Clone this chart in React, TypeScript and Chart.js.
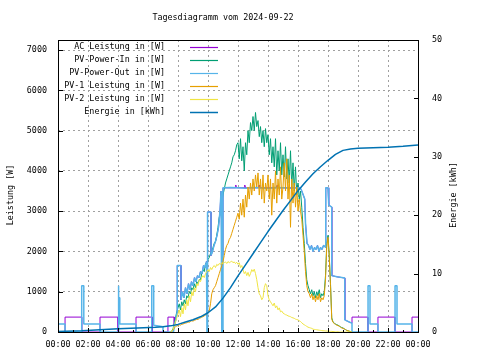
import React, { useEffect, useRef } from 'react';
import { Chart, registerables } from 'chart.js';

Chart.register(...registerables);

// ---------- texts ----------
const titleText = 'Tagesdiagramm vom 2024-09-22';
const yTitle = 'Leistung [W]';
const y2Title = 'Energie [kWh]';
const seriesNames = [
  'AC Leistung in [W]',
  'PV-Power-In in [W]',
  'PV-Power-Out in [W]',
  'PV-1 Leistung in [W]',
  'PV-2 Leistung in [W]',
  'Energie in [kWh]',
];
const seriesColors = ['#9400d3', '#009e73', '#56b4e9', '#e69f00', '#f0e442', '#0072b2'];

// ---------- axes ----------
const xTickHours = [0, 2, 4, 6, 8, 10, 12, 14, 16, 18, 20, 22, 24];
const xTickLabels = ['00:00', '02:00', '04:00', '06:00', '08:00', '10:00', '12:00', '14:00', '16:00', '18:00', '20:00', '22:00', '00:00'];
const xMinorHours = [1, 3, 5, 7, 9, 11, 13, 15, 17, 19, 21, 23];
const yTicks = [0, 1000, 2000, 3000, 4000, 5000, 6000, 7000];
const y2Ticks = [0, 10, 20, 30, 40, 50];
const yMax = 7250;
const y2Max = 50;

// ---------- data ----------
// day series sampled every 5 minutes starting 07:30
const dayStartHour = 7.5;
const dayStepHours = 5 / 60;

const pvInValues = [
  0, 20, 80, 200, 350, 500, 600, 700, 550, 750, 650, 800,
  700, 900, 850, 1000, 950, 1100, 1050, 1200, 1100, 1250, 1200, 1300,
  1300, 1450, 1550, 1500, 1700, 1650, 1800, 1850, 1950, 2000, 2100, 2200,
  2250, 2400, 2600, 2850, 3000, 3200, 3400, 3550, 3700, 3800, 3900, 4000,
  4100, 4200, 4350, 4400, 4500, 4650, 4700, 4300, 4800, 4250, 4600, 4000,
  4700, 4400, 5000, 4700, 5200, 5000, 5350, 5000, 5450, 5100, 5250, 4850,
  5100, 4700, 5000, 4600, 5050, 4700, 4900, 4400, 4800, 4200, 4600, 4100,
  4800, 3900, 4500, 4000, 4700, 3900, 4400, 3850, 4600, 3800, 4300, 3700,
  4500, 3600, 4200, 3500, 4100, 3400, 3700, 3300, 3500, 3100, 2600, 2200,
  1700, 1300, 1150, 1050, 950, 1050, 900, 1000, 850, 1000, 900, 1050,
  850, 950, 900, 1000, 1400, 2200, 2400, 1900, 1200, 350, 250, 220,
  200, 180, 170, 150, 130, 110, 100, 80, 60, 40, 30, 20,
  10, 0,
];

const pv1Values = [
  0, 10, 50, 100, 130, 150, 160, 180, 170, 190, 200, 210,
  220, 230, 250, 240, 260, 280, 270, 290, 300, 320, 310, 340,
  350, 370, 380, 400, 420, 450, 480, 520, 700, 950, 1050, 1100,
  1150, 1250, 1350, 1450, 1550, 1650, 1750, 1900, 2050, 2150, 2200, 2300,
  2350, 2450, 2550, 2650, 2750, 2850, 2950, 2800, 3200, 2900, 3300, 2850,
  3400, 3100, 3600, 3300, 3700, 3400, 3800, 3500, 3900, 3600, 3950, 3400,
  3800, 3300, 3900, 3200, 3700, 3500, 3900, 3300, 3800, 2900, 3700, 3300,
  4000, 3200, 3800, 3400, 4100, 3300, 3600, 4200, 3500, 4300, 3300, 3900,
  2600, 3800, 3200, 3700, 3100, 3600, 3000, 3300, 3000, 2800, 2400, 2000,
  1500, 1150, 1000, 950, 850, 950, 800, 900, 750, 900, 800, 950,
  750, 850, 800, 900, 1300, 2100, 2350, 1850, 1150, 320, 240, 210,
  190, 170, 160, 140, 120, 100, 90, 75, 60, 40, 30, 20,
  10, 0,
];

const pv2Values = [
  0, 20, 60, 150, 250, 350, 450, 550, 380, 600, 450, 700,
  550, 800, 650, 900, 750, 1000, 900, 1100, 1000, 1200, 1150, 1300,
  1250, 1350, 1400, 1350, 1450, 1500, 1550, 1500, 1600, 1550, 1620, 1650,
  1600, 1680, 1650, 1700, 1680, 1720, 1700, 1720, 1740, 1700, 1750, 1720,
  1740, 1760, 1720, 1740, 1700, 1730, 1680, 1720, 1600, 1650, 1550, 1450,
  1500, 1400, 1480, 1380, 1450, 1550, 1500, 1560, 1450, 1300, 1100, 950,
  900, 800, 850, 1100, 1200, 1150, 900, 800, 750, 700, 650, 720,
  600, 650, 550, 600, 500, 520, 470, 450, 430, 420, 400, 390,
  380, 360, 350, 340, 320, 310, 300, 280, 260, 230, 200, 180,
  160, 140, 120, 110, 100, 90, 70, 65, 60, 55, 50, 45,
  40, 35, 30, 30, 25, 25, 20, 20, 15, 15, 10, 10,
  5, 5, 5, 0, 0, 0, 0, 0, 0, 0, 0, 0,
  0, 0,
];

const pvOutTimes = [
  0, 0.47, 0.47, 1.58, 1.58, 1.72, 1.72, 2.8, 2.8, 4.0, 4.0, 4.06, 4.06, 4.12, 4.12, 5.2, 5.2, 6.25, 6.25, 6.38, 6.38, 7.0, 7.0,
  7.7, 7.75, 7.85, 7.95, 7.95, 8.2, 8.2, 8.3, 8.4, 8.5, 8.6, 8.7, 8.8, 8.9, 9.0, 9.1, 9.2, 9.3, 9.4, 9.5, 9.6, 9.7, 9.8, 9.9,
  9.93, 9.93, 9.97, 9.97, 10.2, 10.2, 10.3, 10.4, 10.5, 10.6, 10.7, 10.8, 10.87, 10.92, 10.92, 11.0, 11.0,
  11.5, 12.0, 12.5, 13.0, 13.5, 14.0, 14.5, 15.0, 15.5, 16.1, 16.2, 16.35, 16.45, 16.5, 16.6, 16.7, 16.8, 16.9,
  17.0, 17.1, 17.2, 17.3, 17.4, 17.5, 17.6, 17.7, 17.85, 17.85, 18.0, 18.05, 18.25, 18.25, 18.6, 19.12, 19.12,
  19.4, 19.6, 19.6, 20.67, 20.67, 20.8, 20.8, 21.33, 21.33, 22.47, 22.47, 22.6, 22.6, 23.6, 23.6, 24,
];
const pvOutValues = [
  200, 200, 0, 0, 1150, 1150, 200, 200, 0, 0, 1150, 1150, 850, 850, 200, 200, 0, 0, 1150, 1150, 170, 130, 0,
  0, 150, 300, 500, 1650, 1650, 800, 1000, 850, 1100, 950, 1200, 1050, 1250, 1150, 1350, 1250, 1400, 1350, 1500, 1450, 1650, 1600, 1750,
  1750, 0, 0, 2980, 2980, 1900, 2000, 2150, 2250, 2400, 2600, 3000, 3500, 3500, 0, 0, 3580,
  3590, 3580, 3570, 3590, 3580, 3560, 3590, 3580, 3570, 3580, 3550, 3400, 3300, 2700, 2200, 2150, 2050, 2150,
  2000, 2100, 2050, 2150, 2000, 2100, 2050, 2150, 2100, 3580, 3580, 3150, 3100, 1400, 1370, 1340, 300,
  250, 220, 0, 0, 1150, 1150, 200, 200, 0, 0, 1150, 1150, 200, 200, 0, 0,
];

const acTimes = [
  0, 0.47, 0.47, 1.58, 1.58, 2.8, 2.8, 4.0, 4.0, 5.2, 5.2, 6.3, 6.3, 7.33, 7.33, 7.75, 7.75,
  7.85, 7.95, 7.95, 8.2, 8.2, 8.3, 8.4, 8.5, 8.6, 8.7, 8.8, 8.9, 9.0, 9.1, 9.2, 9.3, 9.4, 9.5, 9.6, 9.7, 9.8, 9.9,
  9.93, 9.93, 9.97, 9.97, 10.2, 10.2, 10.3, 10.4, 10.5, 10.6, 10.7, 10.8, 10.87, 10.92, 10.92, 11.0, 11.0,
  11.8, 11.85, 11.9, 12.4, 12.45, 12.5, 13.35, 13.4, 13.45, 14.55, 14.6, 14.65, 15.9, 15.95, 16.0, 16.1,
  16.2, 16.35, 16.45, 16.5, 16.6, 16.7, 16.8, 16.9, 17.0, 17.1, 17.2, 17.3, 17.4, 17.5, 17.6, 17.7, 17.85, 17.85,
  18.0, 18.05, 18.25, 18.25, 18.6, 19.12, 19.12, 19.4, 19.6, 19.6, 20.67, 20.67, 21.33, 21.33, 22.47, 22.47, 23.6, 23.6, 24,
];
const acValues = [
  0, 0, 370, 370, 0, 0, 370, 370, 0, 0, 370, 370, 0, 0, 370, 370, 150,
  300, 500, 1650, 1650, 800, 1000, 850, 1100, 950, 1200, 1050, 1250, 1150, 1350, 1250, 1400, 1350, 1500, 1450, 1650, 1600, 1750,
  1750, 400, 400, 2980, 2980, 1900, 2000, 2150, 2250, 2400, 2600, 3000, 3500, 3500, 1900, 1900, 3580,
  3580, 3650, 3580, 3580, 3650, 3580, 3580, 3650, 3580, 3580, 3640, 3580, 3580, 3650, 3580, 3580,
  3550, 3400, 3300, 2700, 2200, 2150, 2050, 2150, 2000, 2100, 2050, 2150, 2000, 2100, 2050, 2150, 2100, 3580,
  3580, 3150, 3100, 1400, 1370, 1340, 300, 250, 220, 370, 370, 0, 0, 370, 370, 0, 0, 370, 370,
];

const energyTimes = [0, 1.6, 2.5, 4, 5.3, 6.5, 7, 7.5, 8, 8.5, 9, 9.5, 10, 10.5, 11, 11.5, 12, 12.5, 13, 13.5, 14, 14.5, 15, 15.5, 16, 16.5, 17, 17.5, 18, 18.5, 19, 19.5, 20, 21, 22, 23, 24];
const energyValues = [0.1, 0.2, 0.35, 0.55, 0.7, 0.8, 0.9, 1.05, 1.3, 1.7, 2.1, 2.6, 3.3, 4.3, 5.8, 7.6, 9.6, 11.5, 13.4, 15.3, 17.2, 19.0, 20.8, 22.5, 24.2, 25.7, 27.1, 28.3, 29.4, 30.4, 31.1, 31.35, 31.45, 31.55, 31.65, 31.8, 32.0];

// ---------- styling ----------
const FONT_FAMILY = '"DejaVu Sans Mono", "Liberation Mono", monospace';
const FONT_SIZE = 8.4;
const GRID_COLOR = '#a0a0a0';

const pairs = (ts: number[], vs: number[]) => ts.map((t, i) => ({ x: t, y: vs[i] }));
const dayPoints = (vs: number[]) => vs.map((v, i) => ({ x: dayStartHour + i * dayStepHours, y: v }));

const decorPlugin = {
  id: 'gnuplotDecor',
  afterDraw(chart: any) {
    const { ctx, chartArea: a, scales } = chart;
    const font = `${FONT_SIZE}px ${FONT_FAMILY}`;
    ctx.save();
    // plot border
    ctx.strokeStyle = '#000';
    ctx.lineWidth = 1;
    ctx.setLineDash([]);
    ctx.strokeRect(a.left + 0.5, a.top + 0.5, a.right - a.left, a.bottom - a.top);
    // inward tick marks
    ctx.beginPath();
    yTicks.forEach((v) => {
      const y = Math.round(scales.y.getPixelForValue(v)) + 0.5;
      ctx.moveTo(a.left, y);
      ctx.lineTo(a.left + 5, y);
    });
    y2Ticks.forEach((v) => {
      const y = Math.round(scales.y2.getPixelForValue(v)) + 0.5;
      ctx.moveTo(a.right + 1, y);
      ctx.lineTo(a.right - 4, y);
    });
    xTickHours.forEach((h) => {
      const x = Math.round(scales.x.getPixelForValue(h)) + 0.5;
      ctx.moveTo(x, a.bottom + 1);
      ctx.lineTo(x, a.bottom - 4);
    });
    xMinorHours.forEach((h) => {
      const x = Math.round(scales.x.getPixelForValue(h)) + 0.5;
      ctx.moveTo(x, a.bottom + 1);
      ctx.lineTo(x, a.bottom - 2);
    });
    ctx.stroke();

    ctx.fillStyle = '#000';
    ctx.font = font;
    ctx.textBaseline = 'middle';
    // title
    ctx.textAlign = 'center';
    ctx.fillText(titleText, 223, 18);
    // axis titles
    ctx.save();
    ctx.translate(11, 195);
    ctx.rotate(-Math.PI / 2);
    ctx.fillText(yTitle, 0, 0);
    ctx.restore();
    ctx.save();
    ctx.translate(454, 195);
    ctx.rotate(-Math.PI / 2);
    ctx.fillText(y2Title, 0, 0);
    ctx.restore();
    // legend
    seriesNames.forEach((name, i) => {
      const y = 47 + i * 13;
      ctx.textAlign = 'right';
      ctx.fillStyle = '#000';
      ctx.fillText(name, 165, y);
      ctx.beginPath();
      ctx.strokeStyle = seriesColors[i];
      ctx.lineWidth = i === 5 ? 1.5 : 1.2;
      ctx.moveTo(190, Math.round(y) + 0.5);
      ctx.lineTo(218, Math.round(y) + 0.5);
      ctx.stroke();
    });
    ctx.restore();
  },
};

export default function App() {
  const ref = useRef<HTMLCanvasElement>(null);

  useEffect(() => {
    const canvas = ref.current;
    if (!canvas) return;
    const tickFont = { family: FONT_FAMILY, size: FONT_SIZE };
    // lower "order" is drawn on top: Energie on top, AC at the bottom (gnuplot plot order)
    const chart = new Chart(canvas, {
      type: 'line',
      data: {
        datasets: [
          { label: seriesNames[0], data: pairs(acTimes, acValues), borderColor: seriesColors[0], yAxisID: 'y', order: 5, borderWidth: 1 },
          { label: seriesNames[1], data: dayPoints(pvInValues), borderColor: seriesColors[1], yAxisID: 'y', order: 4 },
          { label: seriesNames[2], data: pairs(pvOutTimes, pvOutValues), borderColor: seriesColors[2], yAxisID: 'y', order: 3, borderWidth: 1.5 },
          { label: seriesNames[3], data: dayPoints(pv1Values), borderColor: seriesColors[3], yAxisID: 'y', order: 2 },
          { label: seriesNames[4], data: dayPoints(pv2Values), borderColor: seriesColors[4], yAxisID: 'y', order: 1 },
          { label: seriesNames[5], data: pairs(energyTimes, energyValues), borderColor: seriesColors[5], yAxisID: 'y2', order: 0, borderWidth: 1.5 },
        ],
      },
      options: {
        animation: false,
        responsive: false,
        events: [],
        layout: { padding: { top: 40, left: 0, right: 0, bottom: 0 } },
        elements: {
          point: { radius: 0 },
          line: { borderWidth: 1, tension: 0, borderJoinStyle: 'bevel', fill: false },
        },
        plugins: {
          legend: { display: false },
          tooltip: { enabled: false },
          title: { display: false },
        },
        scales: {
          x: {
            type: 'linear',
            min: 0,
            max: 24,
            afterBuildTicks: (scale: any) => {
              scale.ticks = xTickHours.map((v) => ({ value: v }));
            },
            afterFit: (scale: any) => {
              scale.height = 28;
            },
            ticks: {
              autoSkip: false,
              maxRotation: 0,
              minRotation: 0,
              padding: 8,
              color: '#000',
              font: tickFont,
              callback: (v: any) => xTickLabels[xTickHours.indexOf(Number(v))],
            },
            grid: {
              drawTicks: false,
              color: (c: any) => (c.tick && (c.tick.value === 0 || c.tick.value === 24) ? 'rgba(0,0,0,0)' : GRID_COLOR),
              lineWidth: 1,
            },
            border: { display: false, dash: [2, 3] },
          },
          y: {
            type: 'linear',
            position: 'left',
            min: 0,
            max: yMax,
            afterBuildTicks: (scale: any) => {
              scale.ticks = yTicks.map((v) => ({ value: v }));
            },
            afterFit: (scale: any) => {
              scale.width = 58;
            },
            ticks: { padding: 11, color: '#000', font: tickFont, callback: (v: any) => String(v) },
            grid: {
              drawTicks: false,
              color: (c: any) => (c.tick && c.tick.value === 0 ? 'rgba(0,0,0,0)' : GRID_COLOR),
              lineWidth: 1,
            },
            border: { display: false, dash: [2, 3] },
          },
          y2: {
            type: 'linear',
            position: 'right',
            min: 0,
            max: y2Max,
            afterBuildTicks: (scale: any) => {
              scale.ticks = y2Ticks.map((v) => ({ value: v }));
            },
            afterFit: (scale: any) => {
              scale.width = 62;
            },
            ticks: { padding: 14, color: '#000', font: tickFont, callback: (v: any) => String(v) },
            grid: { display: false, drawTicks: false },
            border: { display: false },
          },
        },
      },
      plugins: [decorPlugin],
    } as any);
    return () => chart.destroy();
  }, []);

  return (
    <div style={{ position: 'fixed', left: 0, top: 0, width: 480, height: 360, background: '#fff' }}>
      <canvas ref={ref} width={480} height={360} style={{ display: 'block', width: 480, height: 360 }} />
    </div>
  );
}
